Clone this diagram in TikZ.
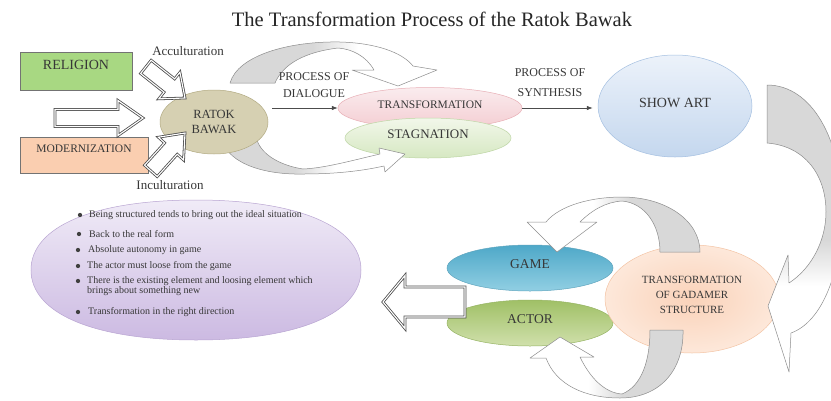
\documentclass[tikz,border=0pt]{standalone}
\usepackage{fontspec}
\setmainfont{Liberation Serif}
\usetikzlibrary{shapes.geometric,arrows.meta}
\definecolor{txt}{RGB}{55,55,55}
\definecolor{relg}{RGB}{168,216,130}
\definecolor{modc}{RGB}{250,206,176}
\definecolor{ratokc}{RGB}{214,208,178}
\definecolor{ratokb}{RGB}{178,170,130}
\definecolor{transt}{RGB}{250,236,238}
\definecolor{transb}{RGB}{244,205,210}
\definecolor{transd}{RGB}{232,175,182}
\definecolor{stagt}{RGB}{242,247,234}
\definecolor{stagb}{RGB}{214,232,194}
\definecolor{stagd}{RGB}{190,214,165}
\definecolor{showt}{RGB}{236,242,250}
\definecolor{showb}{RGB}{196,215,238}
\definecolor{showd}{RGB}{165,192,225}
\definecolor{gamet}{RGB}{78,168,200}
\definecolor{gameb}{RGB}{145,207,227}
\definecolor{gamed}{RGB}{95,165,190}
\definecolor{actt}{RGB}{160,192,102}
\definecolor{actb}{RGB}{208,224,172}
\definecolor{actd}{RGB}{150,180,100}
\definecolor{gadi}{RGB}{250,210,185}
\definecolor{gado}{RGB}{253,232,218}
\definecolor{gadd}{RGB}{244,196,165}
\definecolor{purt}{RGB}{240,235,247}
\definecolor{purb}{RGB}{204,186,226}
\definecolor{purd}{RGB}{185,165,210}
\definecolor{tailgray}{RGB}{216,216,216}
\pgfdeclarehorizontalshading{tailshade}{100bp}{color(0bp)=(tailgray); color(45bp)=(tailgray); color(56bp)=(white); color(100bp)=(white)}
\pgfdeclarehorizontalshading{tailshadeB}{100bp}{color(0bp)=(tailgray); color(52bp)=(tailgray); color(60bp)=(white); color(100bp)=(white)}
\begin{document}
\begin{tikzpicture}[x=1pt,y=-1pt,
  lbl/.style={text=txt, inner sep=0pt},
  box/.style={draw=black!55, line width=0.5pt, inner sep=0pt, text=txt},
  ell/.style={ellipse, inner sep=0pt, line width=0.5pt, text=txt},
  blockarr/.style={draw=black!70, line width=0.8pt, double=white, double distance=1.1pt, fill=white, line join=miter},
  conn/.style={draw=black!70, line width=0.7pt, -{Latex[length=6pt,width=4.5pt]}},
  carrow/.style={draw=black!45, line width=0.5pt, line join=round},
  dotb/.style={circle, fill=black!75, inner sep=0pt, minimum size=4.3pt},
  bul/.style={anchor=west, inner sep=0pt, text=txt, font=\fontsize{10}{10.5}\selectfont, align=left}]
\useasboundingbox (0,0) rectangle (831,400);
\fill[white] (0,0) rectangle (831,400);

% title
\node[lbl, text=black!85, font=\fontsize{20.5}{24}\selectfont] (title) at (432,19) {The Transformation Process of the Ratok Bawak};

% top dialogue circular arrow
\shadedraw[carrow, shading=tailshade] (230,83) .. controls (238,55) and (290,41) .. (340,42) .. controls (375,43) and (402,52) .. (413,66) -- (437,70) -- (398,86) -- (352,70) -- (374,70) .. controls (366,56) and (352,49) .. (338,48) .. controls (305,52) and (283,64) .. (275,83) -- cycle;

% ellipses of the first row
\node[ell, top color=transt, bottom color=transb, draw=transd, minimum width=184, minimum height=41, text depth=6pt, font=\fontsize{11.5}{13}\selectfont] (trans) at (430,108) {TRANSFORMATION};
\node[ell, top color=stagt, bottom color=stagb, draw=stagd, minimum width=166, minimum height=40, text depth=8pt, font=\fontsize{13}{15}\selectfont] (stag) at (428,138) {STAGNATION};

% bottom dialogue circular arrow
\shadedraw[carrow, shading=tailshade] (222,137) .. controls (224,160) and (258,175) .. (303,174) .. controls (335,174) and (362,171) .. (384,166) -- (385,172) -- (405,154) -- (379,148) -- (380,154) .. controls (350,161) and (325,168) .. (303,169) .. controls (283,166) and (262,156) .. (257,140) -- cycle;

\node[ell, fill=ratokc, draw=ratokb, minimum width=108, minimum height=64, align=center, font=\fontsize{12.5}{15}\selectfont] (ratok) at (214,122) {RATOK\\BAWAK};
\node[ell, top color=showt, bottom color=showb, draw=showd, minimum width=154, minimum height=102, text depth=6pt, font=\fontsize{14}{16}\selectfont] (show) at (675,106) {SHOW ART};

% boxes
\node[box, fill=relg, minimum width=112, minimum height=38, text height=9.5pt, text depth=12pt, font=\fontsize{14}{16}\selectfont] (relig) at (76,71) {RELIGION};
\node[box, fill=modc, minimum width=128, minimum height=36, text height=8pt, text depth=14pt, font=\fontsize{11.5}{13}\selectfont] (modern) at (84,155) {MODERNIZATION};

% block arrows into RATOK BAWAK
\path[blockarr, shift={(143,118)}] (-88,-8.5) -- (-25,-8.5) -- (-25,-17.5) -- (0,0) -- (-25,17.5) -- (-25,8.5) -- (-88,8.5) -- cycle;
\path[blockarr, shift={(185,98)}, rotate=-38.5] (-50,-8.5) -- (-20,-8.5) -- (-20,-17) -- (0,0) -- (-20,17) -- (-20,8.5) -- (-50,8.5) -- cycle;
\path[blockarr, shift={(185,133)}, rotate=48] (-51,-8.5) -- (-21,-8.5) -- (-21,-17) -- (0,0) -- (-21,17) -- (-21,8.5) -- (-51,8.5) -- cycle;
\node[lbl, font=\fontsize{13}{15}\selectfont] (acc) at (188,51) {Acculturation};
\node[lbl, font=\fontsize{13}{15}\selectfont] (inc) at (170,185) {Inculturation};

% connectors
\draw[conn, shorten <=4pt] (ratok.east |- trans.west) -- (trans.west);
\draw[conn, shorten >=5pt] (trans.east) -- (show.west |- trans.east);
\node[lbl, align=center, font=\fontsize{12}{17}\selectfont] (pdial) at (314,85) {PROCESS OF\\DIALOGUE};
\node[lbl, align=center, font=\fontsize{12}{20}\selectfont] (psyn) at (550,83) {PROCESS OF\\SYNTHESIS};

% second row ellipses
\node[ell, top color=gamet, bottom color=gameb, draw=gamed, minimum width=166, minimum height=46, text depth=8pt, font=\fontsize{13.5}{15}\selectfont] (game) at (530,268) {GAME};
\node[ell, top color=actt, bottom color=actb, draw=actd, minimum width=166, minimum height=46, text depth=8pt, font=\fontsize{13.5}{15}\selectfont] (actor) at (530,323) {ACTOR};
\node[ell, inner color=gadi, outer color=gado, draw=gadd, minimum width=174, minimum height=108, align=center, text depth=8pt, font=\fontsize{11}{15}\selectfont] (gad) at (692,299) {TRANSFORMATION\\OF GADAMER\\STRUCTURE};

% big right circular arrow
\shadedraw[carrow, shading=tailshadeB, shading angle=-90] (767,85) .. controls (812,85) and (842,140) .. (842,210) .. controls (842,272) and (822,322) .. (791,333) -- (789,372) -- (768,306) -- (788,255) -- (789,283) .. controls (812,268) and (826,240) .. (826,212) .. controls (826,175) and (805,146) .. (767,143) -- cycle;

% loops around GAME / ACTOR
\shadedraw[carrow, shading=tailshade, shading angle=180] (700,252) .. controls (700,220) and (665,197) .. (622,197) .. controls (592,197) and (560,205) .. (546,222) -- (527,222) -- (557,252) -- (597,222) -- (580,222) .. controls (592,210) and (606,202) .. (622,201) .. controls (645,203) and (660,225) .. (660,252) -- cycle;
\shadedraw[carrow, shading=tailshade, shading angle=180] (683,330) .. controls (684,370) and (660,398) .. (620,398) .. controls (585,398) and (556,385) .. (546,358) -- (530,358) -- (560,337) -- (594,357) -- (580,357) .. controls (590,378) and (605,393) .. (622,394) .. controls (642,386) and (650,360) .. (650,330) -- cycle;

% purple shape with list
\shadedraw[top color=purt, bottom color=purb, draw=purd, line width=0.5pt] (31,270) .. controls (31,226.6) and (93.7,200) .. (196,200) .. controls (298.3,200) and (361,226.6) .. (361,270) .. controls (361,313.4) and (298.3,340) .. (196,340) .. controls (93.7,340) and (31,313.4) .. (31,270) -- cycle;
\path[blockarr, shift={(383,302)}] (82,-15) -- (22,-15) -- (22,-26.5) -- (0,0) -- (22,26.5) -- (22,15) -- (82,15) -- cycle;

\node[dotb] (d1) at (80,215) {};
\node[dotb] (d2) at (79,234) {};
\node[dotb] (d3) at (78,250) {};
\node[dotb] (d4) at (78,266) {};
\node[dotb] (d5) at (78,281) {};
\node[dotb] (d6) at (78,312) {};
\node[bul] (b1) at (89,215) {Being structured tends to bring out the ideal situation};
\node[bul] (b2) at (89,234) {Back to the real form};
\node[bul] (b3) at (88,250) {Absolute autonomy in game};
\node[bul] (b4) at (87,266) {The actor must loose from the game};
\node[bul] (b5) at (87,286) {There is the existing element and loosing element which\\brings about something new};
\node[bul] (b6) at (88,312) {Transformation in the right direction};
\end{tikzpicture}
\end{document}
